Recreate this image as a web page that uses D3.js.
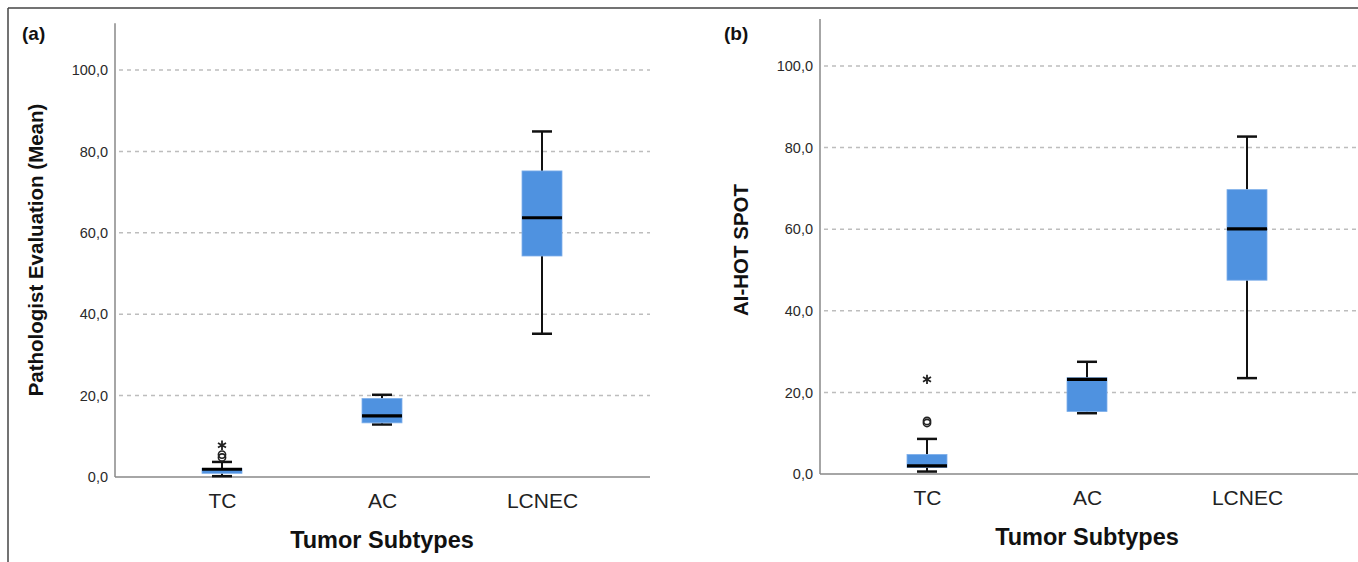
<!DOCTYPE html>
<html>
<head>
<meta charset="utf-8">
<script src="https://cdn.jsdelivr.net/npm/d3@7"></script>
<style>
  html, body { margin: 0; padding: 0; background: #fff; }
  svg { display: block; font-family: Arial, "Liberation Sans", sans-serif; }
</style>
</head>
<body>
<svg id="chart" width="1358" height="562"></svg>
<script>
// ---- data ----
const categories = ["TC", "AC", "LCNEC"];
const yTicks = [0, 20, 40, 60, 80, 100];

// (a) Pathologist Evaluation (Mean)
const pathoLow    = [0.2, 12.9, 35.2];
const pathoQ1     = [0.9, 13.3, 54.3];
const pathoMedian = [1.9, 15.0, 63.7];
const pathoQ3     = [2.1, 19.3, 75.2];
const pathoHigh   = [3.7, 20.2, 84.9];
const pathoOutliers = [[4.8, 5.5], [], []];
const pathoExtremes = [[7.8], [], []];

// (b) AI-HOT SPOT
const aiLow    = [0.6, 14.9, 23.5];
const aiQ1     = [1.6, 15.3, 47.5];
const aiMedian = [2.0, 23.2, 60.1];
const aiQ3     = [4.8, 23.6, 69.7];
const aiHigh   = [8.6, 27.5, 82.7];
const aiOutliers = [[12.5, 13.0], [], []];
const aiExtremes = [[23.2], [], []];

// ---- drawing ----
const svg = d3.select("#chart");
const fmt = v => d3.format(".1f")(v).replace(".", ",");

// outer frame (top and left)
svg.append("line").attr("x1", 8).attr("x2", 1358).attr("y1", 8).attr("y2", 8)
  .attr("stroke", "#444").attr("stroke-width", 1.5);
svg.append("line").attr("x1", 8).attr("x2", 8).attr("y1", 8).attr("y2", 562)
  .attr("stroke", "#444").attr("stroke-width", 1.5);

function panel(cfg) {
  const g = svg.append("g");
  const y = d3.scaleLinear().domain([0, 100]).range([cfg.y0, cfg.y100]);
  const x = d3.scalePoint().domain(categories)
    .range([cfg.axisX + 107, cfg.axisX + 427]);

  // gridlines
  g.selectAll("line.grid").data(yTicks.filter(t => t > 0)).join("line")
    .attr("x1", cfg.axisX + 4).attr("x2", cfg.right)
    .attr("y1", d => y(d)).attr("y2", d => y(d))
    .attr("stroke", "#bdbdbd").attr("stroke-width", 1.5)
    .attr("stroke-dasharray", "4,4");

  // y axis via d3.axisLeft (no tick marks)
  const ya = g.append("g").attr("transform", `translate(${cfg.axisX},0)`)
    .call(d3.axisLeft(y).tickValues(yTicks).tickFormat(fmt).tickSize(0).tickPadding(7));
  ya.select(".domain").remove();
  ya.selectAll("text").attr("font-size", 14.5).attr("fill", "#2a2a2a")
    .attr("font-family", "Arial, 'Liberation Sans', sans-serif");
  g.append("line").attr("x1", cfg.axisX).attr("x2", cfg.axisX)
    .attr("y1", y(0)).attr("y2", y(111.5))
    .attr("stroke", "#888").attr("stroke-width", 1.5);

  // x axis
  const xa = g.append("g").attr("transform", `translate(0,${y(0)})`)
    .call(d3.axisBottom(x).tickSize(0).tickPadding(16));
  xa.select(".domain").remove();
  xa.selectAll("text").attr("font-size", 21).attr("fill", "#222")
    .attr("font-family", "Arial, 'Liberation Sans', sans-serif");
  g.append("line").attr("x1", cfg.axisX).attr("x2", cfg.right)
    .attr("y1", y(0)).attr("y2", y(0))
    .attr("stroke", "#888").attr("stroke-width", 1.5);

  const boxW = 40, capW = 20;
  const rows = categories.map((c, i) => ({
    c, lo: cfg.low[i], q1: cfg.q1[i], med: cfg.median[i], q3: cfg.q3[i], hi: cfg.high[i],
    out: cfg.outliers[i], ext: cfg.extremes[i]
  }));
  const bx = g.selectAll("g.box").data(rows).join("g").attr("class", "box");

  // whiskers
  bx.append("line").attr("x1", d => x(d.c)).attr("x2", d => x(d.c))
    .attr("y1", d => y(d.hi)).attr("y2", d => y(d.q3))
    .attr("stroke", "#111").attr("stroke-width", 2);
  bx.append("line").attr("x1", d => x(d.c)).attr("x2", d => x(d.c))
    .attr("y1", d => y(d.q1)).attr("y2", d => y(d.lo))
    .attr("stroke", "#111").attr("stroke-width", 2);
  bx.append("line").attr("x1", d => x(d.c) - capW / 2).attr("x2", d => x(d.c) + capW / 2)
    .attr("y1", d => y(d.hi)).attr("y2", d => y(d.hi))
    .attr("stroke", "#111").attr("stroke-width", 2.5);
  bx.append("line").attr("x1", d => x(d.c) - capW / 2).attr("x2", d => x(d.c) + capW / 2)
    .attr("y1", d => y(d.lo)).attr("y2", d => y(d.lo))
    .attr("stroke", "#111").attr("stroke-width", 2.5);

  // box
  bx.append("rect").attr("x", d => x(d.c) - boxW / 2).attr("width", boxW)
    .attr("y", d => y(d.q3)).attr("height", d => Math.max(1, y(d.q1) - y(d.q3)))
    .attr("fill", "#4f92e0").attr("stroke", "#7fb0ea").attr("stroke-width", 0.8);
  // median
  bx.append("line").attr("x1", d => x(d.c) - boxW / 2).attr("x2", d => x(d.c) + boxW / 2)
    .attr("y1", d => y(d.med)).attr("y2", d => y(d.med))
    .attr("stroke", "#000").attr("stroke-width", 3.2);

  // outliers (circles)
  bx.selectAll("circle.out").data(d => d.out.map(v => ({ c: d.c, v }))).join("circle")
    .attr("cx", d => x(d.c)).attr("cy", d => y(d.v)).attr("r", 3.6)
    .attr("fill", "none").attr("stroke", "#222").attr("stroke-width", 1.6);
  // extremes (asterisks)
  bx.selectAll("path.ext").data(d => d.ext.map(v => ({ c: d.c, v }))).join("path")
    .attr("transform", d => `translate(${x(d.c)},${y(d.v)})`)
    .attr("d", d3.symbol(d3.symbolAsterisk, 60)())
    .attr("fill", "none").attr("stroke", "#222").attr("stroke-width", 1.8);

  // titles
  g.append("text").attr("transform", `translate(${cfg.ylabX},${cfg.ylabY}) rotate(-90)`)
    .attr("text-anchor", "middle").attr("font-size", 20.5).attr("font-weight", "bold")
    .attr("fill", "#111").text(cfg.ylabel);
  g.append("text").attr("x", x("AC")).attr("y", cfg.xlabY)
    .attr("text-anchor", "middle").attr("font-size", 23.5).attr("font-weight", "bold")
    .attr("fill", "#111").text("Tumor Subtypes");
  g.append("text").attr("x", cfg.tagX).attr("y", 40)
    .attr("font-size", 19).attr("font-weight", "bold").attr("fill", "#111").text(cfg.tag);
}

panel({
  tag: "(a)", tagX: 22,
  axisX: 115, right: 650, y0: 477, y100: 70,
  ylabel: "Pathologist Evaluation (Mean)", ylabX: 43, ylabY: 250, xlabY: 548,
  low: pathoLow, q1: pathoQ1, median: pathoMedian, q3: pathoQ3, high: pathoHigh,
  outliers: pathoOutliers, extremes: pathoExtremes
});
panel({
  tag: "(b)", tagX: 724,
  axisX: 820, right: 1358, y0: 474, y100: 66,
  ylabel: "AI-HOT SPOT", ylabX: 748, ylabY: 250, xlabY: 545,
  low: aiLow, q1: aiQ1, median: aiMedian, q3: aiQ3, high: aiHigh,
  outliers: aiOutliers, extremes: aiExtremes
});
</script>
</body>
</html>
